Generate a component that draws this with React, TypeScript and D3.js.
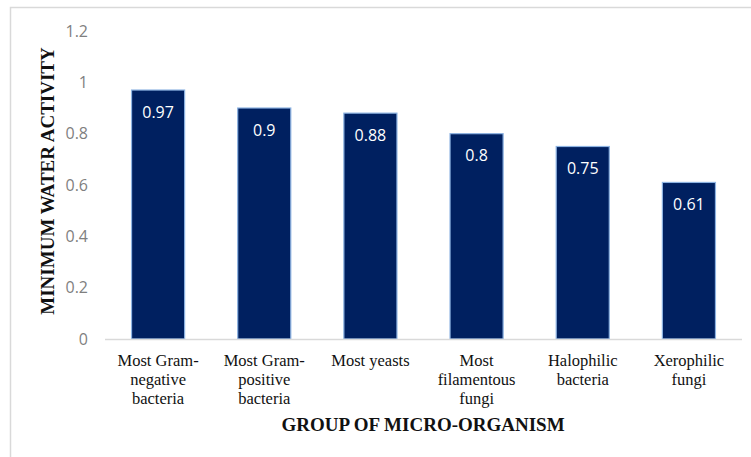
import { useEffect, useRef } from "react";
import * as d3 from "d3";

const categories = [
  ["Most Gram-", "negative", "bacteria"],
  ["Most Gram-", "positive", "bacteria"],
  ["Most yeasts"],
  ["Most", "filamentous", "fungi"],
  ["Halophilic", "bacteria"],
  ["Xerophilic", "fungi"],
];
const values = [0.97, 0.9, 0.88, 0.8, 0.75, 0.61];
const yTicks = [0, 0.2, 0.4, 0.6, 0.8, 1, 1.2];

export default function App() {
  const svgRef = useRef<SVGSVGElement>(null);

  useEffect(() => {
    if (!svgRef.current) return;
    const W = 751;
    const H = 457;
    const svg = d3.select(svgRef.current).attr("width", W).attr("height", H);
    svg.selectAll("*").remove();

    // outer frame (runs off the page to the right and bottom)
    svg.append("path")
      .attr("d", `M10.5,${H + 2} V7.5 H${W + 2}`)
      .attr("fill", "none")
      .attr("stroke", "#d9d9d9")
      .attr("stroke-width", 1.5);

    const keys = categories.map((_, i) => String(i));
    const x = d3.scaleBand().domain(keys).range([105, 742])
      .paddingInner(0.5).paddingOuter(0.25);
    const y = d3.scaleLinear().domain([0, 1.2]).range([339, 31]);

    // y tick labels
    svg.append("g")
      .selectAll("text")
      .data(yTicks)
      .enter()
      .append("text")
      .attr("x", 88)
      .attr("y", d => y(d))
      .attr("dy", "0.35em")
      .attr("text-anchor", "end")
      .attr("fill", "#7f7f7f")
      .attr("font-family", "'Open Sans', sans-serif")
      .attr("font-size", "16px")
      .text(d => String(d));

    // bars
    svg.append("g")
      .selectAll("rect")
      .data(values)
      .enter()
      .append("rect")
      .attr("x", (_, i) => x(keys[i])!)
      .attr("y", d => y(d))
      .attr("width", x.bandwidth())
      .attr("height", d => y(0) - y(d))
      .attr("fill", "#002060")
      .attr("stroke", "#8db3e2")
      .attr("stroke-width", 1.2);

    // baseline
    svg.append("line")
      .attr("x1", 105).attr("x2", 742)
      .attr("y1", y(0) + 0.5).attr("y2", y(0) + 0.5)
      .attr("stroke", "#d9d9d9")
      .attr("stroke-width", 1.5);

    // data labels
    svg.append("g")
      .selectAll("text")
      .data(values)
      .enter()
      .append("text")
      .attr("x", (_, i) => x(keys[i])! + x.bandwidth() / 2)
      .attr("y", d => y(d) + 22)
      .attr("dy", "0.35em")
      .attr("text-anchor", "middle")
      .attr("fill", "white")
      .attr("font-family", "'Open Sans', sans-serif")
      .attr("font-size", "16px")
      .text(d => String(d));

    // category labels
    const cat = svg.append("g")
      .selectAll("text")
      .data(categories)
      .enter()
      .append("text")
      .attr("text-anchor", "middle")
      .attr("fill", "#111")
      .attr("font-family", "'Liberation Serif', 'Times New Roman', serif")
      .attr("font-size", "16.5px");
    cat.each(function (lines, i) {
      const t = d3.select(this);
      lines.forEach((ln, j) => {
        t.append("tspan")
          .attr("x", x(keys[i])! + x.bandwidth() / 2)
          .attr("y", 360 + j * 19)
          .attr("dy", "0.35em")
          .text(ln);
      });
    });

    // axis titles
    svg.append("text")
      .attr("x", 423)
      .attr("y", 424)
      .attr("dy", "0.35em")
      .attr("text-anchor", "middle")
      .attr("font-family", "'Liberation Serif', 'Times New Roman', serif")
      .attr("font-weight", "bold")
      .attr("font-size", "19px")
      .attr("fill", "#111")
      .text("GROUP OF MICRO-ORGANISM");

    svg.append("text")
      .attr("transform", "translate(47,181) rotate(-90)")
      .attr("dy", "0.35em")
      .attr("text-anchor", "middle")
      .attr("font-family", "'Liberation Serif', 'Times New Roman', serif")
      .attr("font-weight", "bold")
      .attr("font-size", "19px")
      .attr("fill", "#111")
      .text("MINIMUM WATER ACTIVITY");
  }, []);

  return (
    <svg
      ref={svgRef}
      style={{ position: "absolute", left: 0, top: 0, display: "block", background: "white" }}
    />
  );
}
